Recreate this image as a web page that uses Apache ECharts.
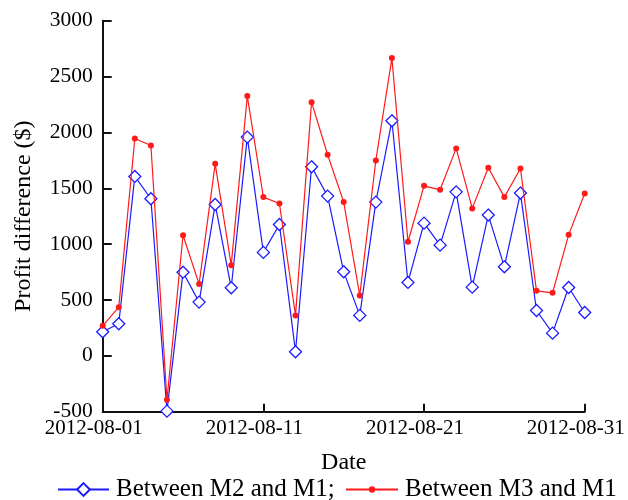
<!DOCTYPE html>
<html>
<head>
<meta charset="utf-8">
<script src="https://cdn.jsdelivr.net/npm/echarts@6/dist/echarts.min.js"></script>
<style>
  html, body { margin: 0; padding: 0; background: #fff; }
  #chart { width: 628px; height: 500px; }
</style>
</head>
<body>
<div id="chart"></div>
<script>
// Daily dates for August 2012
const dates = [
  '2012-08-01','2012-08-02','2012-08-03','2012-08-04','2012-08-05','2012-08-06','2012-08-07','2012-08-08',
  '2012-08-09','2012-08-10','2012-08-11','2012-08-12','2012-08-13','2012-08-14','2012-08-15','2012-08-16',
  '2012-08-17','2012-08-18','2012-08-19','2012-08-20','2012-08-21','2012-08-22','2012-08-23','2012-08-24',
  '2012-08-25','2012-08-26','2012-08-27','2012-08-28','2012-08-29','2012-08-30','2012-08-31'
];

// Profit difference between M2 and M1 ($)
const m2VsM1 = [
  215, 287, 1606, 1406, -495, 749, 481, 1355, 609, 1958, 926, 1176, 36, 1692, 1430, 752,
  362, 1376, 2104, 657, 1188, 991, 1468, 615, 1260, 797, 1457, 406, 203, 612, 388
];

// Profit difference between M3 and M1 ($)
const m3VsM1 = [
  269, 436, 1946, 1883, -394, 1080, 642, 1719, 812, 2325, 1421, 1364, 362, 2271, 1800, 1376,
  541, 1749, 2665, 1021, 1522, 1486, 1857, 1320, 1683, 1421, 1677, 582, 564, 1083, 1454
];

const seriesNames = ['Between M2 and M1;', 'Between M3 and M1'];

const FONT = '"Liberation Serif", "Times New Roman", serif';
const AXIS_COLOR = '#111';
const BLUE = '#1a1aff';
const RED = '#ff1a1a';

const legendText = { fontFamily: FONT, fontSize: 25, color: '#000', padding: [0, 0, 0, 2] };

const chart = echarts.init(document.getElementById('chart'), null, { renderer: 'canvas' });

chart.setOption({
  backgroundColor: '#fff',
  animation: false,
  textStyle: { fontFamily: FONT, color: '#000' },
  grid: { left: 102.7, right: 43.3, top: 20.7, bottom: 88.3, containLabel: false },
  // Two legends so each icon keeps its own marker size (legend marker = 80% of itemHeight)
  legend: [
    {
      data: [seriesNames[0]],
      left: 57,
      top: 477,
      padding: 0,
      itemWidth: 51,
      itemHeight: 16,
      textStyle: legendText
    },
    {
      data: [seriesNames[1]],
      left: 345,
      top: 477,
      padding: 0,
      itemWidth: 52,
      itemHeight: 8,
      textStyle: legendText
    }
  ],
  xAxis: {
    type: 'category',
    data: dates,
    boundaryGap: false,
    name: 'Date',
    nameLocation: 'middle',
    nameGap: 39,
    nameTextStyle: { fontFamily: FONT, fontSize: 24, color: '#000' },
    axisLine: { onZero: false, lineStyle: { color: AXIS_COLOR, width: 2 } },
    axisTick: { show: true, inside: true, length: 8, interval: 9, lineStyle: { color: AXIS_COLOR, width: 2 } },
    axisLabel: {
      interval: 9,
      margin: 6,
      fontFamily: FONT,
      fontSize: 21,
      color: '#000',
      padding: [0, 18, 0, 0]
    },
    splitLine: { show: false }
  },
  yAxis: {
    type: 'value',
    min: -500,
    max: 3000,
    interval: 500,
    name: 'Profit difference ($)',
    nameLocation: 'middle',
    nameGap: 67,
    nameTextStyle: { fontFamily: FONT, fontSize: 24, color: '#000' },
    axisLine: { show: true, lineStyle: { color: AXIS_COLOR, width: 2 } },
    axisTick: { show: true, inside: true, length: 9, lineStyle: { color: AXIS_COLOR, width: 2 } },
    axisLabel: {
      margin: 10,
      fontFamily: FONT,
      fontSize: 21.5,
      color: '#000',
      formatter: (v) => String(v)
    },
    splitLine: { show: false }
  },
  series: [
    {
      name: seriesNames[0],
      type: 'line',
      data: m2VsM1,
      symbol: 'diamond',
      symbolSize: 12,
      showAllSymbol: true,
      lineStyle: { color: BLUE, width: 1.2 },
      itemStyle: { color: '#fff', borderColor: BLUE, borderWidth: 1.3 },
      z: 2
    },
    {
      name: seriesNames[1],
      type: 'line',
      data: m3VsM1,
      symbol: 'circle',
      symbolSize: 6,
      showAllSymbol: true,
      lineStyle: { color: RED, width: 1.2 },
      itemStyle: { color: RED, borderWidth: 0 },
      z: 3
    }
  ]
});
</script>
</body>
</html>
